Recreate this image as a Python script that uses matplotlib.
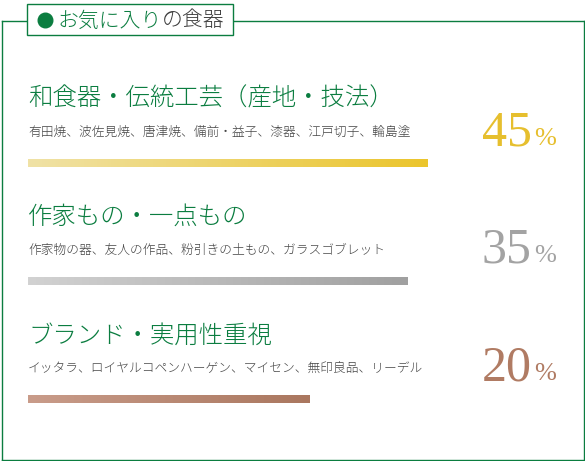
import numpy as np
import matplotlib
matplotlib.use("Agg")
import matplotlib.pyplot as plt
from matplotlib.patches import Rectangle
from matplotlib.colors import LinearSegmentedColormap

plt.rcParams['font.family'] = ['Noto Sans CJK JP', 'DejaVu Sans']

header_a = "お気に入り"
header_b = "の食器"
titles = ["和食器・伝統工芸（産地・技法）", "作家もの・一点もの", "ブランド・実用性重視"]
details = [
    "有田焼、波佐見焼、唐津焼、備前・益子、漆器、江戸切子、輪島塗",
    "作家物の器、友人の作品、粉引きの土もの、ガラスゴブレット",
    "イッタラ、ロイヤルコペンハーゲン、マイセン、無印良品、リーデル",
]
shares = [45, 35, 20]
# bar lengths as drawn (share of the 400 px track), not proportional to shares
bar_fill = [100, 95, 70.5]

bar_colors = [("#f0e2a6", "#ebc52c"), ("#d2d2d2", "#a0a0a0"), ("#c99c8a", "#aa775f")]
num_colors = ["#e6bf2e", "#a3a3a3", "#b07b63"]
green = "#0b7d40"

W, H = 585, 461
fig = plt.figure(figsize=(W / 100, H / 100), dpi=100)
ax = fig.add_axes([0, 0, 1, 1])
ax.set_xlim(0, W)
ax.set_ylim(H, 0)
ax.axis("off")

# frame
lw = 1.0
ax.plot([2, 27], [21, 21], color=green, lw=lw)
ax.plot([233, 583.5], [21, 21], color=green, lw=lw)
ax.plot([2, 2], [21, 459.5], color=green, lw=lw)
ax.plot([583.5, 583.5], [21, 459.5], color=green, lw=lw)
ax.plot([2, 583.5], [459.5, 459.5], color=green, lw=lw)
ax.add_patch(Rectangle((27, 4), 206, 31, facecolor="white", edgecolor=green, lw=lw, zorder=3))

# header
ax.plot(45, 20, "o", color=green, markersize=10.5, zorder=4)
ax.text(58, 20.5, header_a, color=green, fontsize=15, weight="light",
        ha="left", va="center", zorder=4)
ax.text(162, 20.5, header_b, color="#3c3c3c", fontsize=15, weight="light",
        ha="left", va="center", zorder=4)

title_y = [98, 216, 335]
detail_y = [132, 250, 368]
bar_y = [163, 281, 399]
num_base = [145, 262, 380]
x0, track = 28, 400

for i in range(3):
    ax.text(x0, title_y[i], titles[i], color=green, fontsize=17.6, weight="light",
            ha="left", va="center")
    ax.text(x0, detail_y[i], details[i], color="#454545", fontsize=9.2, weight="light",
            ha="left", va="center")

    length = track * bar_fill[i] / 100
    bar = ax.barh(bar_y[i], length, left=x0, height=8, color=bar_colors[i][1], lw=0)[0]
    cmap = LinearSegmentedColormap.from_list("g%d" % i, bar_colors[i])
    grad = np.linspace(0, 1, 256).reshape(1, -1)
    im = ax.imshow(grad, cmap=cmap, aspect="auto",
                   extent=(x0, x0 + length, bar_y[i] + 4, bar_y[i] - 4), zorder=2)
    im.set_clip_path(bar)

    ax.text(482, num_base[i], str(shares[i]), color=num_colors[i], fontsize=36,
            family="Liberation Serif", ha="left", va="baseline")
    ax.text(534, num_base[i], "%", color=num_colors[i], fontsize=19,
            family="Liberation Serif", ha="left", va="baseline")

ax.set_xlim(0, W)
ax.set_ylim(H, 0)
fig.savefig("out.png", dpi=100, facecolor="white")
